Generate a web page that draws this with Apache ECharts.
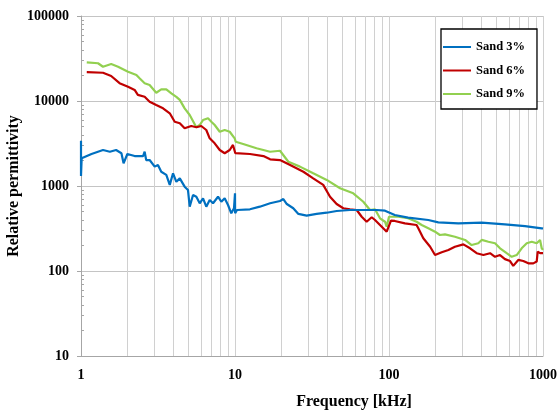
<!DOCTYPE html>
<html>
<head>
<meta charset="utf-8">
<script src="https://cdn.jsdelivr.net/npm/echarts@6/dist/echarts.min.js"></script>
<style>
  html, body { margin: 0; padding: 0; background: #fff; }
  #chart { width: 557px; height: 411px; }
</style>
</head>
<body>
<div id="chart"></div>
<script>
// Relative permittivity of sand samples versus frequency (log-log)
const seriesNames = ['Sand 3%', 'Sand 6%', 'Sand 9%'];

const sand3Freq = [1, 1, 1.01, 1.17, 1.39, 1.54, 1.69, 1.83, 1.89, 2.00, 2.23, 2.53, 2.59, 2.65, 2.79, 3.01, 3.16, 3.32, 3.58, 3.77, 3.96, 4.16, 4.38, 4.71, 4.95, 5.08, 5.34, 5.61, 5.90, 6.20, 6.51, 6.85, 7.20, 7.76, 8.15, 8.57, 9.01, 9.46, 9.85, 10.0, 10.02, 10.3, 12.5, 14.5, 16.9, 19.6, 20.6, 21.7, 23.9, 25.8, 29.2, 33.9, 39.4, 45.7, 55.8, 68.1, 83.2, 94.2, 109, 133, 180, 209, 282, 400, 566, 764, 981, 1000];
const sand3Perm = [3400, 1310, 2120, 2380, 2650, 2530, 2650, 2430, 1850, 2380, 2250, 2250, 2530, 2020, 2020, 1690, 1770, 1470, 1350, 1030, 1410, 1120, 1230, 982, 898, 571, 784, 748, 626, 717, 571, 685, 626, 748, 653, 717, 598, 477, 547, 820, 477, 522, 532, 571, 626, 666, 703, 614, 547, 469, 448, 469, 485, 508, 522, 522, 522, 512, 456, 424, 398, 374, 364, 370, 354, 338, 318, 315];

const sand6Freq = [1.09, 1.39, 1.57, 1.78, 2.02, 2.23, 2.34, 2.59, 2.79, 3.08, 3.41, 3.77, 4.06, 4.38, 4.71, 5.20, 5.61, 6.04, 6.51, 6.85, 7.38, 7.96, 8.57, 9.24, 9.70, 9.95, 10.05, 12.5, 15.3, 16.9, 19.6, 22.8, 27.8, 32.2, 37.4, 41.4, 45.7, 50.5, 55.8, 61.7, 66.5, 71.6, 77.2, 81.1, 87.4, 96.6, 98.9, 103, 109, 127, 151, 155, 167, 185, 199, 220, 243, 268, 304, 336, 371, 410, 453, 488, 526, 566, 611, 641, 691, 745, 803, 865, 910, 924, 957, 1000];
const sand6Perm = [21900, 21500, 19700, 16200, 14700, 13500, 11800, 11200, 9820, 8970, 8200, 7170, 5710, 5470, 4770, 5080, 4910, 5080, 4560, 3640, 3180, 2650, 2430, 2650, 3040, 3180, 2430, 2380, 2250, 2060, 2020, 1770, 1470, 1230, 1030, 748, 614, 547, 532, 522, 435, 380, 429, 398, 348, 290, 278, 391, 388, 364, 348, 318, 243, 193, 154, 166, 177, 193, 206, 185, 162, 154, 162, 147, 154, 138, 131, 115, 135, 131, 123, 123, 129, 169, 162, 162];

const sand9Freq = [1.09, 1.29, 1.39, 1.57, 1.74, 2.02, 2.29, 2.40, 2.59, 2.79, 3.08, 3.32, 3.58, 3.86, 4.16, 4.38, 4.71, 5.08, 5.61, 5.90, 6.20, 6.68, 7.02, 7.38, 7.96, 8.57, 9.24, 9.95, 10.1, 11.3, 13.8, 16.9, 19.6, 22.2, 26.4, 32.2, 39.4, 48.1, 58.6, 68.1, 75.3, 81.1, 87.4, 94.2, 96.6, 100, 115, 133, 151, 163, 180, 199, 214, 231, 268, 312, 344, 380, 400, 442, 488, 526, 581, 626, 675, 727, 784, 845, 910, 957, 981, 1000];
const sand9Perm = [28500, 27800, 25300, 27200, 25300, 22100, 20200, 18500, 16200, 15400, 12500, 13700, 13700, 12300, 11200, 10300, 8200, 6840, 4910, 5220, 5970, 6260, 5710, 5220, 4350, 4560, 4350, 3640, 3320, 3120, 2780, 2530, 2600, 1930, 1690, 1410, 1180, 940, 820, 653, 522, 532, 417, 380, 332, 435, 435, 417, 380, 348, 318, 290, 265, 270, 253, 232, 202, 212, 232, 221, 212, 185, 162, 147, 154, 185, 212, 221, 212, 232, 185, 177];

// Tick values
const xMajorTicks = [1, 10, 100, 1000];
const xGridTicks = [1, 2, 3, 4, 5, 6, 7, 8, 9, 10, 20, 30, 40, 50, 60, 70, 80, 90, 100, 200, 300, 400, 500, 600, 700, 800, 900, 1000];
const yMajorTicks = [10, 100, 1000, 10000, 100000];
const yMinorTicks = [20, 30, 40, 50, 60, 70, 80, 90, 200, 300, 400, 500, 600, 700, 800, 900, 2000, 3000, 4000, 5000, 6000, 7000, 8000, 9000, 20000, 30000, 40000, 50000, 60000, 70000, 80000, 90000];

const colors = ['#0070C0', '#C00000', '#92D050'];
const FONT = '"Liberation Serif", "Times New Roman", serif';

function pairs(xs, ys) { return xs.map((x, i) => [x, ys[i]]); }

const chart = echarts.init(document.getElementById('chart'), null, { renderer: 'canvas' });

const fmt = v => String(Math.round(v));

chart.setOption({
  backgroundColor: '#ffffff',
  animation: false,
  grid: { left: 81, right: 14, top: 16, bottom: 55, containLabel: false, outerBoundsMode: 'none' },
  legend: {
    orient: 'vertical',
    left: 441,
    top: 29,
    padding: [11, 12, 8, 2],
    itemGap: 9.5,
    itemWidth: 28,
    itemHeight: 2,
    icon: 'rect',
    borderColor: '#000',
    borderWidth: 1.3,
    backgroundColor: '#fff',
    textStyle: { fontFamily: FONT, fontWeight: 'bold', fontSize: 12.5, color: '#000', lineHeight: 14 },
    data: seriesNames
  },
  xAxis: {
    type: 'log',
    logBase: 10,
    min: 1,
    max: 1000,
    name: 'Frequency [kHz]',
    nameLocation: 'middle',
    nameGap: 38,
    nameMoveOverlap: false,
    nameTextStyle: { fontFamily: FONT, fontWeight: 'bold', fontSize: 16, color: '#000', padding: [0, 0, 0, 84] },
    axisLine: { show: true, lineStyle: { color: '#A6A6A6', width: 1 } },
    axisTick: { show: false, customValues: xGridTicks },
    axisLabel: { customValues: xMajorTicks, formatter: fmt, margin: 12, fontFamily: FONT, fontWeight: 'bold', fontSize: 14, color: '#000' },
    splitLine: { show: true, lineStyle: { color: '#D0D0D0', width: 1 } }
  },
  yAxis: [{
    type: 'log',
    logBase: 10,
    min: 10,
    max: 100000,
    name: 'Relative permittivity',
    nameLocation: 'middle',
    nameGap: 59,
    nameMoveOverlap: false,
    nameTextStyle: { fontFamily: FONT, fontWeight: 'bold', fontSize: 16, color: '#000' },
    axisLine: { show: true, lineStyle: { color: '#A6A6A6', width: 1 } },
    axisTick: { show: true, length: 4, customValues: yMajorTicks, lineStyle: { color: '#A6A6A6' } },
    axisLabel: { customValues: yMajorTicks, formatter: fmt, margin: 12, fontFamily: FONT, fontWeight: 'bold', fontSize: 14, color: '#000' },
    splitLine: { show: true, lineStyle: { color: '#C4C4C4', width: 1 } }
  }, {
    type: 'log',
    logBase: 10,
    min: 10,
    max: 100000,
    position: 'left',
    axisLine: { show: false },
    axisTick: { show: true, inside: true, length: 3, customValues: yMinorTicks, lineStyle: { color: '#A6A6A6' } },
    axisLabel: { show: false },
    splitLine: { show: false }
  }],
  series: [
    { name: seriesNames[0], data: pairs(sand3Freq, sand3Perm) },
    { name: seriesNames[1], data: pairs(sand6Freq, sand6Perm) },
    { name: seriesNames[2], data: pairs(sand9Freq, sand9Perm) }
  ].map((s, i) => ({
    type: 'line',
    name: s.name,
    data: s.data,
    showSymbol: false,
    symbol: 'none',
    smooth: false,
    color: colors[i],
    itemStyle: { color: colors[i] },
    lineStyle: { color: colors[i], width: 2.2 },
    z: 3 + (2 - i)
  }))
});
</script>
</body>
</html>
